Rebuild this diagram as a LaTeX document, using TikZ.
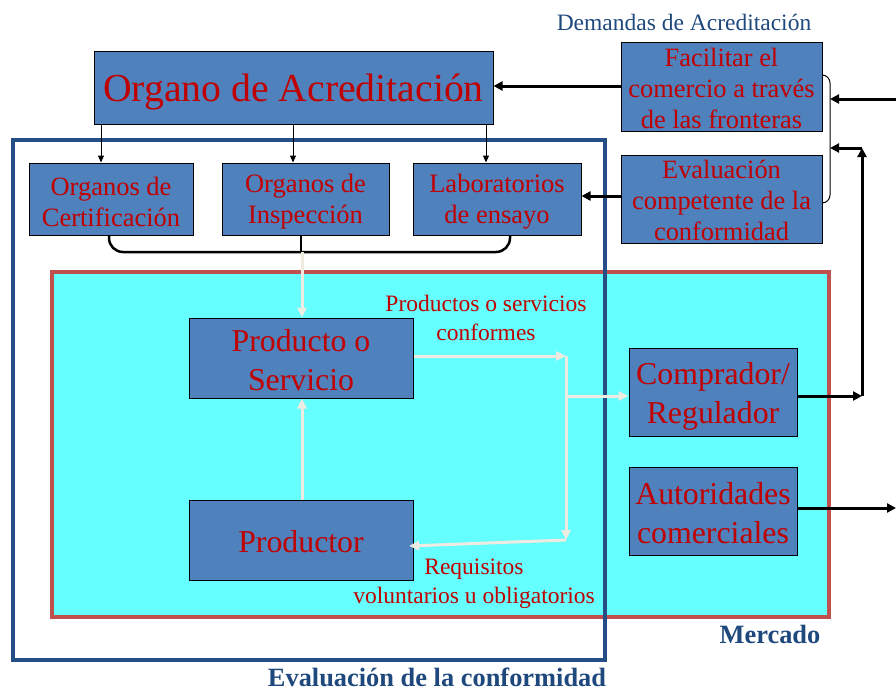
\documentclass[tikz,border=0pt]{standalone}
\usepackage{fontspec}
\setmainfont{Liberation Serif}
\usetikzlibrary{arrows.meta}
\definecolor{boxblue}{HTML}{4F81BD}
\definecolor{txtred}{HTML}{C00000}
\definecolor{darkblue}{HTML}{1F497D}
\definecolor{frameblue}{HTML}{254E86}
\definecolor{mktred}{HTML}{C0504D}
\definecolor{mktcyan}{HTML}{66FFFF}
\definecolor{whiteline}{HTML}{EEECE1}
\tikzset{
  bbox/.style={rectangle, fill=boxblue, draw=black, line width=1pt, inner sep=0pt},
  btxt/.style={text=txtred, align=center, inner sep=0pt},
  thinarr/.style={line width=1pt, -{Triangle[length=7pt,width=6pt]}},
  thickarr/.style={line width=3pt, -{Triangle[length=9pt,width=9pt]}},
  whitearr/.style={whiteline, line width=3pt, -{Triangle[length=10pt,width=9pt]}},
  lbl/.style={text=txtred, align=center, inner sep=0pt, font=\fontsize{23.5}{29}\selectfont},
  title/.style={text=darkblue, inner sep=0pt, font=\bfseries\fontsize{26.4}{30}\selectfont}
}
\begin{document}
\begin{tikzpicture}[x=1pt,y=-1pt]
\useasboundingbox (0,0) rectangle (896,693);
% market box
\draw[mktred, line width=3.5pt, fill=mktcyan] (52,272) rectangle (829,617);
% conformity frame
\draw[frameblue, line width=3.5pt] (13,140) rectangle (605,660);

% boxes
\node[bbox, minimum width=399pt, minimum height=72pt] (org) at (293.5,88) {};
\node[bbox, minimum width=201pt, minimum height=88pt] (fac) at (721.5,87) {};
\node[bbox, minimum width=201pt, minimum height=88pt] (evc) at (721.5,199) {};
\node[bbox, minimum width=164pt, minimum height=72pt] (cert) at (111,199) {};
\node[bbox, minimum width=167pt, minimum height=72pt] (insp) at (305.5,199) {};
\node[bbox, minimum width=168pt, minimum height=72pt] (lab) at (497,199) {};
\node[bbox, minimum width=224pt, minimum height=80pt] (prod) at (301,358) {};
\node[bbox, minimum width=224pt, minimum height=80pt] (prodr) at (301,540) {};
\node[bbox, minimum width=168pt, minimum height=88pt] (comp) at (713,392) {};
\node[bbox, minimum width=168pt, minimum height=88pt] (aut) at (713,511) {};

% box texts
\node[btxt, font=\fontsize{39.7}{44}\selectfont, yshift=-4pt] (orgT) at (org) {Organo de Acreditación};
\node[btxt, font=\fontsize{26.4}{31}\selectfont, yshift=-1pt] (facT) at (fac) {Facilitar el\\comercio a través\\de las fronteras};
\node[btxt, font=\fontsize{26.4}{31}\selectfont, yshift=-1pt] (evcT) at (evc) {Evaluación\\competente de la\\conformidad};
\node[btxt, font=\fontsize{26.5}{31}\selectfont, yshift=-2.5pt] (certT) at (cert) {Organos de\\Certificación};
\node[btxt, font=\fontsize{26.5}{31}\selectfont, yshift=-2.5pt] (inspT) at (insp) {Organos de\\Inspección};
\node[btxt, font=\fontsize{26.5}{31}\selectfont, yshift=-2.5pt] (labT) at (lab) {Laboratorios\\de ensayo};
\node[btxt, font=\fontsize{31.8}{39}\selectfont, yshift=-2pt] (prodT) at (prod) {Producto o\\Servicio};
\node[btxt, font=\fontsize{31.8}{39}\selectfont, yshift=-2pt] (prodrT) at (prodr) {Productor};
\node[btxt, font=\fontsize{31.8}{39}\selectfont, yshift=-4pt] (compT) at (comp) {Comprador/\\Regulador};
\node[btxt, font=\fontsize{31.8}{39}\selectfont, yshift=-2.5pt] (autT) at (aut) {Autoridades\\comerciales};

% labels
\node[text=darkblue, inner sep=0pt, font=\fontsize{23.5}{28}\selectfont] (dem) at (684,22) {Demandas de Acreditación};
\node[lbl] (pscf) at (486,318) {Productos o servicios\\conformes};
\node[lbl] (req) at (474,583.5) {Requisitos\\voluntarios u obligatorios};
\node[title] (merc) at (770,634) {Mercado};
\node[title] (evconf) at (437,677) {Evaluación de la conformidad};

% coordinates
\coordinate (inR1) at (896,99);
\coordinate (braceA) at (830,99);
\coordinate (braceB) at (830,148);
\coordinate (corner) at (862,396);
\coordinate (cornerTop) at (862,148);
\coordinate (outR2) at (896,508);
\coordinate (wjoin) at (566,356);
\coordinate (wbot) at (566,540);
\coordinate (bjoin) at (302,252);
\coordinate (wtip) at (409,546);

% accreditation arrows
\draw[thinarr] (org.south -| 101,0) -- (cert.north -| 101,0);
\draw[thinarr] (org.south -| 293,0) -- (insp.north -| 293,0);
\draw[thinarr] (org.south -| 486,0) -- (lab.north -| 486,0);
\draw[thickarr] (fac.west |- 0,86) -- (org.east |- 0,86);
\draw[thickarr] (evc.west |- 0,196) -- (lab.east |- 0,196);

% bottom brace under bodies
\draw[line width=2.5pt, rounded corners=14pt] (cert.south -| 109,0) -- (109,252) -- (510,252) -- (lab.south -| 510,0);
\draw[line width=2.5pt] (insp.south -| 301,0) -- (bjoin -| 301,0);
\draw[whitearr] (bjoin) -- (prod.north -| bjoin);

% right brace
\draw[line width=1pt, rounded corners=8pt] (fac.east |- 0,75) -- (830,75) -- (830,203) -- (evc.east |- 0,203);
\draw[thickarr] (inR1) -- (braceA);
\draw[thickarr] (comp.east |- corner) -- (corner);
\draw[thickarr] (corner) -- (cornerTop);
\draw[thickarr] (cornerTop) -- (braceB);
\draw[thickarr] (aut.east |- outR2) -- (outR2);

% white flow arrows
\draw[whitearr] (prod.east |- wjoin) -- (wjoin);
\draw[whitearr] (wjoin) -- (wbot);
\draw[whitearr] (wbot) -- (wtip);
\draw[whitearr] (wjoin |- 0,396) -- (comp.west |- 0,396);
\draw[whitearr] (prodr.north -| bjoin) -- (prod.south -| bjoin);
\end{tikzpicture}
\end{document}
